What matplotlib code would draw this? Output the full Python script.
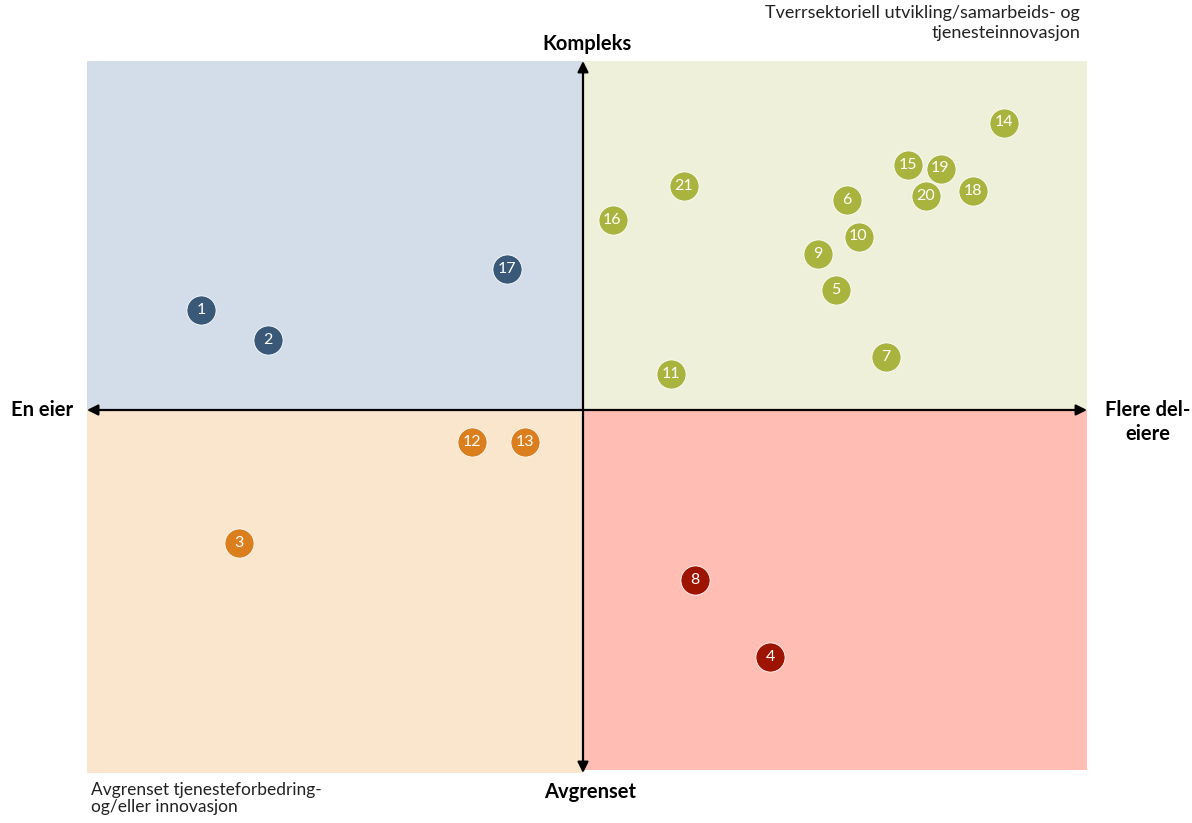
import matplotlib.pyplot as plt
import matplotlib.patches as mpatches

plt.rcParams['font.family'] = ['Lato', 'DejaVu Sans']

# quadrant groups: label, x (eier axis), y (kompleks axis)
blue_ids = ["1", "2", "17"]
blue_x = [-7.64, -6.30, -1.52]
blue_y = [2.00, 1.40, 2.82]

green_ids = ["14", "15", "19", "18", "20", "6", "10", "9", "5", "21", "16", "7", "11"]
green_x = [8.41, 6.49, 7.15, 7.80, 6.85, 5.27, 5.51, 4.69, 5.05, 2.01, 0.59, 6.06, 1.76]
green_y = [5.75, 4.90, 4.83, 4.39, 4.28, 4.20, 3.47, 3.13, 2.41, 4.48, 3.80, 1.06, 0.72]

orange_ids = ["3", "12", "13"]
orange_x = [-6.88, -2.22, -1.16]
orange_y = [-2.66, -0.64, -0.64]

red_ids = ["8", "4"]
red_x = [2.24, 3.74]
red_y = [-3.40, -4.94]

groups = [
    (blue_ids, blue_x, blue_y, "#3A5878"),
    (green_ids, green_x, green_y, "#A9B43F"),
    (orange_ids, orange_x, orange_y, "#DB7F1E"),
    (red_ids, red_x, red_y, "#9E1403"),
]

fig = plt.figure(figsize=(11.92, 8.23), dpi=100)
ax = fig.add_axes([0, 0, 1, 1])
ax.set_xlim(-11.66, 12.18)
ax.set_ylim(-8.26, 8.20)
ax.axis("off")

# quadrant backgrounds
left, right, top, bottom = -9.92, 10.08, 6.98, -7.26
ax.add_patch(mpatches.Rectangle((left, 0), -left, top, color="#D3DDE9", lw=0))
ax.add_patch(mpatches.Rectangle((0, 0), right, top, color="#EEF0D9", lw=0))
ax.add_patch(mpatches.Rectangle((left, bottom), -left, -bottom, color="#FAE5CD", lw=0))
ax.add_patch(mpatches.Rectangle((0, -7.20), right, 7.20, color="#FFBDB4", lw=0))

# axes arrows
arr = dict(arrowstyle="<|-|>", color="black", lw=1.6, mutation_scale=16,
           shrinkA=0, shrinkB=0)
ax.annotate("", xy=(right, 0), xytext=(left, 0), arrowprops=arr)
ax.annotate("", xy=(0, top), xytext=(0, bottom), arrowprops=arr)

for ids, xs, ys, col in groups:
    ax.plot(xs, ys, "o", ms=21, color=col, mec="white", mew=0.6, ls="none")
    for t, x, y in zip(ids, xs, ys):
        ax.text(x, y, t, color="white", fontsize=11.5, ha="center", va="center")

bold = dict(fontsize=14.5, fontweight="bold", color="black")
ax.text(0.08, 7.32, "Kompleks", ha="center", va="center", **bold)
ax.text(0.14, -7.64, "Avgrenset", ha="center", va="center", **bold)
ax.text(-10.82, 0.0, "En eier", ha="center", va="center", **bold)
ax.text(11.30, -0.24, "Flere del-\neiere", ha="center", va="center",
        linespacing=1.25, **bold)

ax.text(9.94, 7.74, "Tverrsektoriell utvikling/samarbeids- og\ntjenesteinnovasjon",
        ha="right", va="center", fontsize=13, color="#222222", linespacing=1.25)
ax.text(-9.84, -7.44, "Avgrenset tjenesteforbedring-\nog/eller innovasjon",
        ha="left", va="top", fontsize=12.5, color="#222222", linespacing=1.1)

fig.savefig("out.png", dpi=100)
plt.close("all")
